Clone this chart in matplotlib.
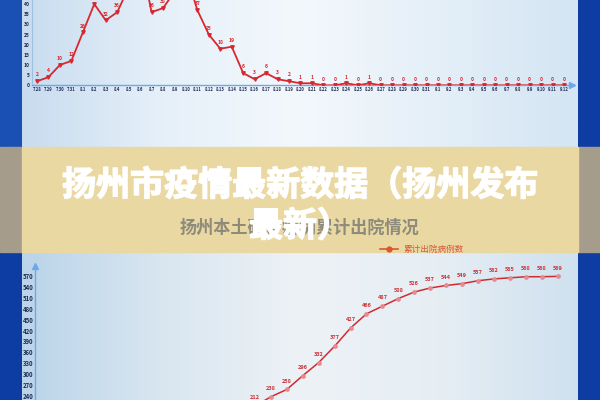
import matplotlib
matplotlib.use("Agg")
import matplotlib.pyplot as plt
import matplotlib.patheffects as pe
import numpy as np
from matplotlib.patches import Rectangle
from matplotlib.colors import LinearSegmentedColormap
from matplotlib.ticker import MultipleLocator

plt.rcParams['font.family'] = ['Noto Sans CJK SC', 'DejaVu Sans']

# ---------------- data ----------------
top_dates = ['7.28', '7.29', '7.30', '7.31'] + [f'8.{d}' for d in range(1, 32)] + [f'9.{d}' for d in range(1, 13)]
top_cases = [2, 4, 10, 12, 26, 40, 32, 36, 48, 64, 36, 38, 46, 55, 37, 25, 18, 19, 6, 3,
             6, 3, 2, 1, 1, 0, 0, 1, 0, 1, 0, 0, 0, 0, 0, 0, 0, 0, 0, 0,
             0, 0, 0, 0, 0, 0, 0]
top_yticks = list(range(0, 45, 5))

bottom_dates = [f'8.{d}' for d in range(22, 32)] + [f'9.{d}' for d in range(1, 13)]
bottom_cum = [170, 190, 212, 238, 258, 296, 332, 377, 427, 466, 487, 508, 526, 537,
              544, 549, 557, 562, 565, 568, 568, 569]
bottom_yticks = list(range(240, 600, 30))

title_line1 = '扬州市疫情最新数据（扬州发布'
title_line2 = '最新）'
subtitle_text = '扬州本土确诊病例累计出院情况'
legend_text = '累计出院病例数'

RED = '#D7282F'
AXBLUE = '#6FA8E8'
TICKC = '#1E2B55'

fig = plt.figure(figsize=(6, 4), dpi=100)

# ---------------- background ----------------
bg = fig.add_axes([0, 0, 1, 1], zorder=0)
bg.add_patch(Rectangle((0, 0), 600, 400, color='#0D3DA3'))
bg.add_patch(Rectangle((0, 0), 22, 150, color='#1A4FB3'))
grad_top = LinearSegmentedColormap.from_list('gt', ['#C8DCEF', '#E6F0F9', '#F3F8FC', '#E4EFF8', '#D4E5F3'])
grad_bot = LinearSegmentedColormap.from_list('gb', ['#BAD4EA', '#D9E6F0', '#EDF2F6', '#E6EEF4', '#CFE1EF'])
g = np.linspace(0, 1, 256).reshape(1, -1)
bg.imshow(g, cmap=grad_top, extent=(22, 578, 150, 0), aspect='auto', zorder=1)
bg.imshow(g, cmap=grad_bot, extent=(22, 578, 400, 248), aspect='auto', zorder=1)
bg.set_xlim(0, 600)
bg.set_ylim(400, 0)
bg.axis('off')

# ---------------- top chart ----------------
ax1 = fig.add_axes([32 / 600, (400 - 85.3) / 400, 540 / 600, 85.3 / 400], zorder=1)
ax1.set_facecolor('none')
x1 = np.arange(len(top_dates))
ax1.plot(x1, top_cases, color=RED, lw=1.3, marker='v', ms=2.5, zorder=3)
for xi, v in zip(x1, top_cases):
    ax1.annotate(str(v), (xi, v), xytext=(0, 4.5), textcoords='offset points',
                 ha='center', va='center', fontsize=3.6, color=RED, fontweight='bold')
ax1.set_xlim(-0.436, 46.7)
ax1.set_ylim(0, 42)
ax1.set_xticks(x1)
ax1.set_xticklabels(top_dates, fontsize=3, color=TICKC, fontweight='bold')
ax1.set_yticks(top_yticks)
ax1.set_yticklabels([str(t) for t in top_yticks], fontsize=3.6, color=TICKC, fontweight='bold')
ax1.tick_params(length=0, pad=1.5)
ax1.yaxis.set_minor_locator(MultipleLocator(10))
ax1.grid(axis='y', which='minor', color='#DCE6EE', lw=0.8)
for s in ['top', 'right']:
    ax1.spines[s].set_visible(False)
ax1.spines['left'].set_color('#9DBFE0')
ax1.spines['bottom'].set_color(AXBLUE)
ax1.spines['left'].set_linewidth(0.8)
ax1.spines['bottom'].set_linewidth(1.0)
ax1.plot(1.0, 0, marker='>', color=AXBLUE, ms=4, transform=ax1.transAxes, clip_on=False)

# ---------------- bottom chart ----------------
ax2 = fig.add_axes([35 / 600, 0, 540 / 600, 134 / 400], zorder=1)
ax2.set_facecolor('none')
x2 = np.arange(len(bottom_dates))
ax2.plot(x2, bottom_cum, color='#CF2B33', lw=1.1, marker='o', ms=2.4,
         mfc='#E58A8F', mec='#E58A8F', zorder=3)
for xi, v in zip(x2, bottom_cum):
    ax2.annotate(str(v), (xi, v), xytext=(0, 6), textcoords='offset points',
                 ha='center', va='center', fontsize=4, color='#C8343A', fontweight='bold',
                 annotation_clip=False)
ax2.set_xlim(-11.81, 22.09)
ax2.set_ylim(229, 597.5)
ax2.set_yticks(bottom_yticks)
ax2.set_yticklabels([str(t) for t in bottom_yticks], fontsize=4.3, color=TICKC, fontweight='bold')
ax2.set_xticks([])
ax2.tick_params(length=0, pad=1.2)
for s in ['top', 'right', 'bottom']:
    ax2.spines[s].set_visible(False)
ax2.spines['left'].set_color(AXBLUE)
ax2.spines['left'].set_linewidth(1.0)
ax2.plot(0, 1.0, marker='^', color=AXBLUE, ms=4, transform=ax2.transAxes, clip_on=False)

# ---------------- banner overlay ----------------
ov = fig.add_axes([0, 0, 1, 1], zorder=3)
ov.set_xlim(0, 600)
ov.set_ylim(400, 0)
ov.axis('off')
ov.patch.set_alpha(0)
ov.add_patch(Rectangle((0, 147), 22, 104.5, color='#A59C8C'))
ov.add_patch(Rectangle((578, 147), 22, 104.5, color='#A59C8C'))
ov.add_patch(Rectangle((22, 147), 556, 104.5, color='#EAD8A2'))
ov.text(299, 228, subtitle_text, ha='center', va='center', fontsize=12.3,
        color='#8D8B7C', fontweight='bold')
# legend
ov.plot([380, 398], [249, 249], color='#D9572E', lw=1.2)
ov.plot([389], [249], marker='o', color='#D9572E', ms=3.5)
ov.text(404, 249, legend_text, ha='left', va='center', fontsize=6.2, color='#D9573A')
thick = [pe.withStroke(linewidth=1.0, foreground='white')]
ov.text(300, 185, title_line1, ha='center', va='center', fontsize=24.5,
        color='white', fontweight='bold', path_effects=thick)
ov.text(300, 226, title_line2, ha='center', va='center', fontsize=24.5,
        color='white', fontweight='bold', path_effects=thick)

fig.savefig('out.png', dpi=100)
